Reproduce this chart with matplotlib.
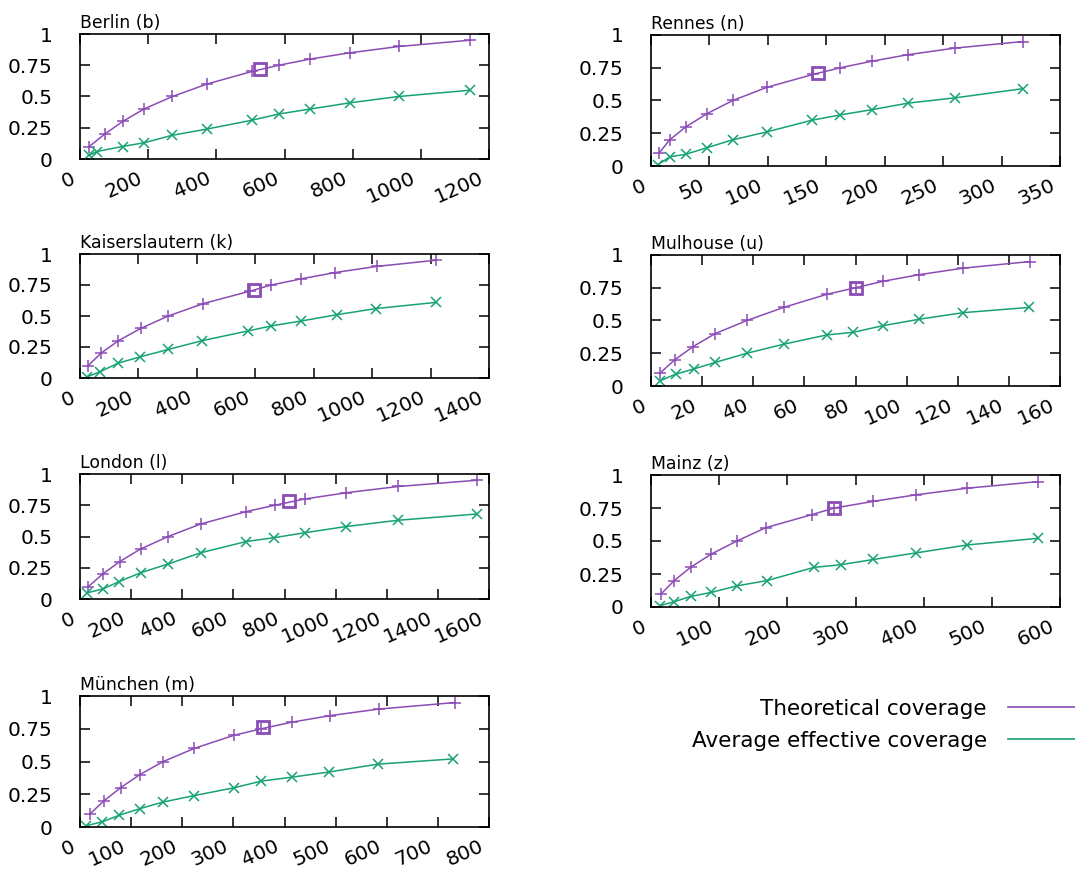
import numpy as np
import matplotlib
matplotlib.use("Agg")
import matplotlib.pyplot as plt
import matplotlib.transforms as mtransforms
from matplotlib.lines import Line2D

plt.rcParams['font.family'] = ['DejaVu Sans']

# coverage levels of the theoretical curve (same for every city)
theo_y = [0.1, 0.2, 0.3, 0.4, 0.5, 0.6, 0.7, 0.75, 0.8, 0.85, 0.9, 0.95]

# Berlin (b)
berlin_theo_x = [27, 73, 125, 188, 271, 373, 504, 583, 676, 793, 935, 1143]
berlin_eff_x = [27, 49, 125, 188, 271, 373, 504, 583, 676, 793, 935, 1143]
berlin_eff_y = [0.03, 0.06, 0.10, 0.13, 0.19, 0.24, 0.31, 0.36, 0.40, 0.45, 0.50, 0.55]
berlin_mark = (527, 0.72)

# Rennes (n)
rennes_theo_x = [7, 16, 30, 48, 70, 99, 139, 162, 189, 220, 260, 318]
rennes_eff_x = [6, 16, 30, 48, 70, 99, 138, 162, 189, 220, 260, 318]
rennes_eff_y = [0.01, 0.07, 0.09, 0.14, 0.20, 0.26, 0.35, 0.39, 0.43, 0.48, 0.52, 0.59]
rennes_mark = (143, 0.71)

# Kaiserslautern (k)
kaiser_theo_x = [28, 72, 131, 208, 302, 422, 581, 655, 758, 872, 1015, 1220]
kaiser_eff_x = [25, 68, 131, 205, 302, 416, 576, 655, 758, 878, 1013, 1220]
kaiser_eff_y = [0.01, 0.05, 0.12, 0.17, 0.23, 0.30, 0.38, 0.42, 0.46, 0.51, 0.56, 0.61]
kaiser_mark = (595, 0.71)

# Mulhouse (u)
mulhouse_theo_x = [3.6, 9.3, 16.4, 25.1, 37.5, 51.9, 68.8, 80, 90.9, 105, 122.2, 148.3]
mulhouse_eff_x = [3.6, 9.6, 16.7, 25.1, 37.5, 52.1, 68.8, 79.2, 90.6, 105, 122.2, 148]
mulhouse_eff_y = [0.04, 0.09, 0.13, 0.18, 0.25, 0.32, 0.39, 0.41, 0.46, 0.51, 0.56, 0.60]
mulhouse_mark = (80, 0.75)

# London (l)
london_theo_x = [33, 89, 156, 237, 345, 472, 651, 762, 879, 1042, 1244, 1553]
london_eff_x = [29, 89, 154, 237, 345, 472, 651, 758, 879, 1042, 1244, 1553]
london_eff_y = [0.05, 0.08, 0.14, 0.21, 0.28, 0.37, 0.46, 0.49, 0.53, 0.58, 0.63, 0.68]
london_mark = (818, 0.78)

# Mainz (z)
mainz_theo_x = [15, 34, 58, 88, 126, 168, 236, 269, 326, 389, 464, 568]
mainz_eff_x = [13, 34, 58, 88, 126, 170, 239, 278, 326, 389, 464, 567]
mainz_eff_y = [0.01, 0.04, 0.08, 0.11, 0.16, 0.20, 0.30, 0.32, 0.36, 0.41, 0.47, 0.52]
mainz_mark = (269, 0.75)

# München (m)
munich_theo_x = [19.5, 47, 79.5, 117, 163, 223.5, 301, 355, 414, 489, 584, 733]
munich_eff_x = [12, 44, 77, 117, 162, 223.5, 302, 354, 414, 487, 583, 730]
munich_eff_y = [0.01, 0.04, 0.09, 0.14, 0.19, 0.24, 0.30, 0.35, 0.38, 0.42, 0.48, 0.52]
munich_mark = (358, 0.76)

y_ticks = [0, 0.25, 0.5, 0.75, 1]
y_tick_labels = ['0', '0.25', '0.5', '0.75', '1']

PURPLE = '#8b4cb5'
GREEN = '#16a275'

W, H = 1075, 872
fig = plt.figure(figsize=(W / 100, H / 100), dpi=100)

# (title, theo_x, eff_x, eff_y, mark, xmax, xstep, pixel box x0, x1, ytop, ybottom)
panels = [
    ('Berlin (b)', berlin_theo_x, berlin_eff_x, berlin_eff_y, berlin_mark, 1200, 200, 80, 489, 34, 159),
    ('Rennes (n)', rennes_theo_x, rennes_eff_x, rennes_eff_y, rennes_mark, 350, 50, 651, 1060, 35, 166),
    ('Kaiserslautern (k)', kaiser_theo_x, kaiser_eff_x, kaiser_eff_y, kaiser_mark, 1400, 200, 80, 489, 254, 378),
    ('Mulhouse (u)', mulhouse_theo_x, mulhouse_eff_x, mulhouse_eff_y, mulhouse_mark, 160, 20, 651, 1060, 255, 386),
    ('London (l)', london_theo_x, london_eff_x, london_eff_y, london_mark, 1600, 200, 80, 489, 474, 599),
    ('Mainz (z)', mainz_theo_x, mainz_eff_x, mainz_eff_y, mainz_mark, 600, 100, 651, 1060, 475, 607),
    ('München (m)', munich_theo_x, munich_eff_x, munich_eff_y, munich_mark, 800, 100, 80, 489, 696, 827),
]

# shift rotated x labels a bit to the left of their tick
xlab_shift = mtransforms.ScaledTranslation(-10 / 100, 0, fig.dpi_scale_trans)

for title, tx, ex, ey, mark, xmax, xstep, x0, x1, yt, yb in panels:
    ax = fig.add_axes([x0 / W, 1 - yb / H, (x1 - x0) / W, (yb - yt) / H])
    ax.plot(tx, theo_y, color=PURPLE, lw=1.1, marker='+', ms=9, mew=1.1)
    ax.plot(ex, ey, color=GREEN, lw=1.1, marker='x', ms=7, mew=1.1)
    ax.plot([mark[0]], [mark[1]], color=PURPLE, marker='s', ms=8, mew=2,
            mfc='none', ls='none')
    ax.set_xlim(0, xmax)
    ax.set_ylim(0, 1)
    ax.set_xticks(np.arange(0, xmax + 1, xstep))
    ax.set_yticks(y_ticks)
    ax.set_yticklabels(y_tick_labels)
    ax.tick_params(direction='in', top=True, right=True, length=7, width=1.1,
                   labelsize=14.5, colors='black')
    ax.tick_params(axis='y', pad=20)
    ax.tick_params(axis='x', pad=7)
    for lab in ax.get_xticklabels():
        lab.set_rotation(24)
        lab.set_ha('right')
        lab.set_va('top')
        lab.set_rotation_mode('anchor')
        lab.set_transform(lab.get_transform() + xlab_shift)
    for sp in ax.spines.values():
        sp.set_linewidth(1.2)
    ax.set_title(title, loc='left', fontsize=12.4, pad=4)

handles = [Line2D([], [], color=PURPLE, lw=1.2), Line2D([], [], color=GREEN, lw=1.2)]
fig.legend(handles, ['Theoretical coverage', 'Average effective coverage'],
           loc='upper right', bbox_to_anchor=(1.0, 1 - 699 / H), frameon=False,
           markerfirst=False, fontsize=15.5, handlelength=3.1, handletextpad=1.0,
           labelspacing=0.55, borderpad=0, borderaxespad=0)

fig.savefig('out.png', dpi=100)
